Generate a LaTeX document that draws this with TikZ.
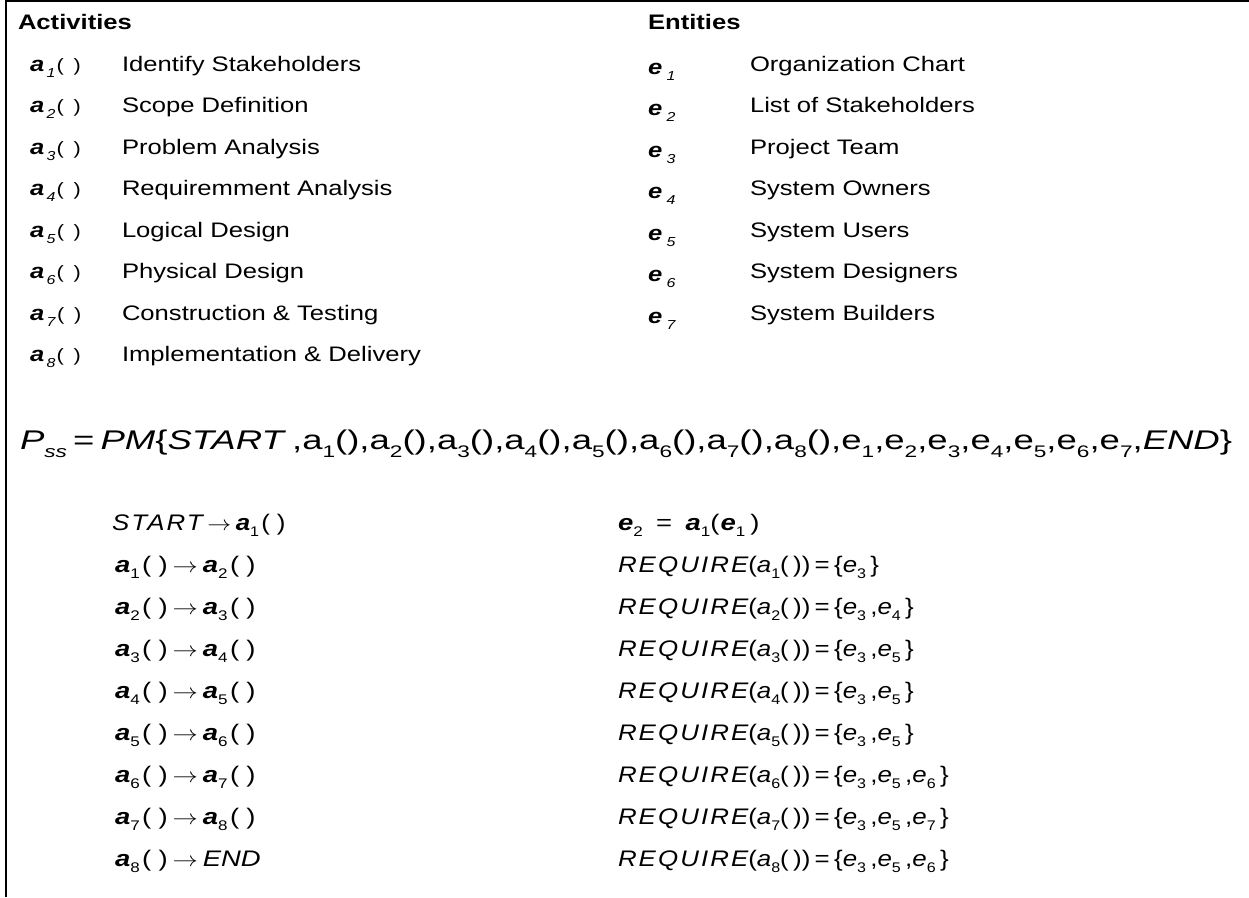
\documentclass[tikz,border=0pt]{standalone}
\usepackage{fontspec}
\usepackage{graphicx}
\setmainfont{Liberation Sans}
% horizontally widened text, lowered small index
\newcommand\W[1]{\scalebox{1.22}[1]{#1}}
\newcommand\Wr[1]{\scalebox{1.15}[1]{#1}}
\newcommand\Lo[1]{\raisebox{-0.3em}{\scalebox{0.62}{#1}}}
% list labels a_i( ) and e_i
\newcommand\ActLbl[1]{\textbf{\textit{a}}\kern2pt\Lo{\textit{#1}}\kern1pt\scalebox{0.85}{(\;\,)}}
\newcommand\EntLbl[1]{\textbf{\textit{e}}\,\Lo{\textit{#1}}}
% formula pieces
\newcommand\Fa[1]{a\Lo{#1}()}
\newcommand\Fe[1]{e\Lo{#1}}
\newcommand\Ba[1]{\textbf{\textit{a}}\Lo{#1}\kern2pt(\kern6pt)}
\newcommand\Ia[1]{\textit{a}\Lo{#1}(\,)}
\newcommand\Ie[1]{\textit{e}\Lo{#1}}
\newcommand\To{\kern4pt$\rightarrow$\kern4pt}
\newcommand\Spaced[1]{{\itshape\addfontfeatures{LetterSpace=8}#1}}
\begin{document}
\begin{tikzpicture}[x=1pt,y=-1pt,
  lbl/.style={anchor=base west, inner sep=0pt, outer sep=0pt,
    font=\fontsize{21}{25}\selectfont},
  hdr/.style={lbl, font=\fontsize{21}{25}\selectfont\bfseries},
  eqn/.style={lbl, font=\fontsize{22.5}{27}\selectfont},
  big/.style={lbl, font=\fontsize{27}{32}\selectfont},
  frame/.style={line width=2.5pt}]
\useasboundingbox (0,0) rectangle (1249,897);

% frame on the left and top
\coordinate (fb) at (6,897);
\coordinate (ftl) at (6,1.2);
\coordinate (ftr) at (1249,1.2);
\draw[frame] (fb) -- (ftl) -- (ftr);

% activities
\node[hdr] (acth) at (18,29) {\W{Activities}};
\foreach \i/\t in {1/{Identify Stakeholders},2/{Scope Definition},
  3/{Problem Analysis},4/{Requiremment Analysis},5/{Logical Design},
  6/{Physical Design},7/{Construction \& Testing},
  8/{Implementation \& Delivery}}{
  \node[lbl] (al\i) at (30,{71+41.5*(\i-1)}) {\W{\ActLbl{\i}}};
  \node[lbl] (at\i) at (122,{71+41.5*(\i-1)}) {\W{\t}};
}

% entities
\node[hdr] (enth) at (648,29) {\W{Entities}};
\foreach \i/\t in {1/{Organization Chart},2/{List of Stakeholders},
  3/{Project Team},4/{System Owners},5/{System Users},
  6/{System Designers},7/{System Builders}}{
  \node[lbl] (el\i) at (648,{74+41.5*(\i-1)}) {\W{\EntLbl{\i}}};
  \node[lbl] (et\i) at (750,{71+41.5*(\i-1)}) {\W{\t}};
}

% process model
\node[big] (pss) at (20,449) {\resizebox{1212pt}{\height}{%
  \textit{P}\Lo{\textit{ss}}\,=\,\textit{PM}\{\textit{START}\,,\Fa{1},\Fa{2},\Fa{3},%
  \Fa{4},\Fa{5},\Fa{6},\Fa{7},\Fa{8},\Fe{1},\Fe{2},\Fe{3},\Fe{4},%
  \Fe{5},\Fe{6},\Fe{7},\textit{END}\}}};

% ordering of activities
\node[eqn] (s0) at (112,530) {\Wr{\Spaced{START}\To\Ba{1}}};
\foreach \i/\j in {1/2,2/3,3/4,4/5,5/6,6/7,7/8}{
  \node[eqn] (s\i) at (115,{530+42*\i}) {\W{\Ba{\i}\To\Ba{\j}}};
}
\node[eqn] (s8) at (115,866) {\W{\Ba{8}\To\textit{END}}};

% produced and required entities
\node[eqn] (r0) at (618,530) {\W{\textbf{\textit{e}}\Lo{2}\kern11pt=\kern11pt\textbf{\textit{a}}\Lo{1}(\kern1pt\textbf{\textit{e}}\Lo{1}\kern4pt)}};
\foreach \i/\s in {1/{\Ie{3}\,},2/{\Ie{3}\,,\Ie{4}\,},3/{\Ie{3}\,,\Ie{5}\,},
  4/{\Ie{3}\,,\Ie{5}\,},5/{\Ie{3}\,,\Ie{5}\,},6/{\Ie{3}\,,\Ie{5}\,,\Ie{6}\,},
  7/{\Ie{3}\,,\Ie{5}\,,\Ie{7}\,},8/{\Ie{3}\,,\Ie{5}\,,\Ie{6}\,}}{
  \node[eqn] (r\i) at (618,{530+42*\i}) {\Wr{\Spaced{REQUIRE}(\Ia{\i})\,=\,\{\s\}}};
}
\end{tikzpicture}
\end{document}
